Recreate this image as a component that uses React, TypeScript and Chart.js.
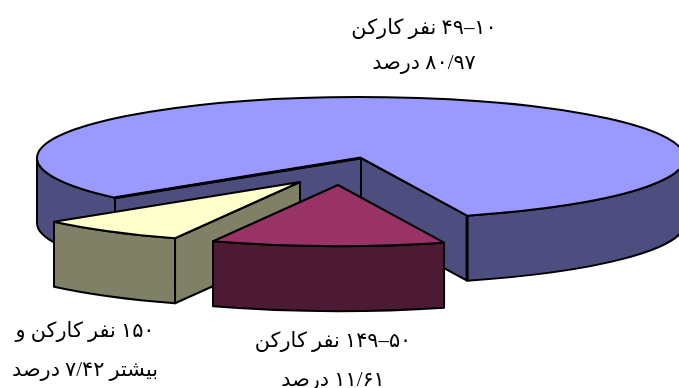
import { useEffect, useRef } from "react";
import { Chart, registerables } from "chart.js";

Chart.register(...registerables);

// Share of workshops by headcount band, in percent.
const bands = ["۱۰–۴۹ نفر کارکن", "۵۰–۱۴۹ نفر کارکن", "۱۵۰ نفر کارکن و بیشتر"];
const shares = [80.97, 11.61, 7.42];
const topColors = ["#9999ff", "#993366", "#ffffcc"];
const wallColors = ["#4d4d80", "#4d1a33", "#808066"];

// Label lines drawn for each slice.
const labelLines = [
  ["۱۰–۴۹ نفر کارکن", "۸۰/۹۷ درصد"],
  ["۵۰–۱۴۹ نفر کارکن", "۱۱/۶۱ درصد"],
  ["۱۵۰ نفر کارکن و", "بیشتر ۷/۴۲ درصد"],
];

// Projection of the flat pie onto a tilted disc.
const DISC = { x: 361, y: 158, rx: 324, ry: 61, depth: 65 };
const EXPLODE = [
  { dx: 0, dy: 0 },
  { dx: -23, dy: 27 },
  { dx: -61, dy: 24 },
];
const LABEL_POS = [
  { x: 424, ys: [29, 64] },
  { x: 333, ys: [342, 381] },
  { x: 85, ys: [332, 371] },
];
const LABEL_FONT = '20.8px "Liberation Serif", "DejaVu Sans"';

type Pt = { x: number; y: number };

const rimPoint = (c: Pt, angle: number): Pt => ({
  x: c.x + DISC.rx * Math.cos(angle),
  y: c.y + DISC.ry * Math.sin(angle),
});

// Parts of [start, end] that face the viewer (the lower half of the ellipse).
function frontSpans(start: number, end: number): [number, number][] {
  const spans: [number, number][] = [];
  for (let k = -1; k <= 2; k++) {
    const a = Math.max(start, k * 2 * Math.PI);
    const b = Math.min(end, k * 2 * Math.PI + Math.PI);
    if (b > a) spans.push([a, b]);
  }
  return spans;
}

function drawSlice(ctx: CanvasRenderingContext2D, arc: any, index: number) {
  const { dx, dy } = EXPLODE[index];
  const c = { x: DISC.x + dx, y: DISC.y + dy };
  const { startAngle: s, endAngle: e } = arc;
  const a = rimPoint(c, s);
  const b = rimPoint(c, e);
  const d = DISC.depth;
  const wall = wallColors[index];

  ctx.lineJoin = "round";
  ctx.strokeStyle = "#000";
  ctx.lineWidth = 2;
  ctx.fillStyle = wall;

  // Cut faces: only those turned towards the viewer are painted.
  const quad = (p: Pt) => {
    ctx.beginPath();
    ctx.moveTo(c.x, c.y);
    ctx.lineTo(p.x, p.y);
    ctx.lineTo(p.x, p.y + d);
    ctx.lineTo(c.x, c.y + d);
    ctx.closePath();
    ctx.fill();
    ctx.stroke();
  };
  if (index === 0) {
    quad(a);
    quad(b);
  } else if (index === 2) {
    quad(a);
  }

  // Outer wall of the slice.
  for (const [from, to] of frontSpans(s, e)) {
    ctx.beginPath();
    ctx.ellipse(c.x, c.y, DISC.rx, DISC.ry, 0, from, to);
    ctx.ellipse(c.x, c.y + d, DISC.rx, DISC.ry, 0, to, from, true);
    ctx.closePath();
    ctx.fill();
    ctx.stroke();
  }

  // Top face.
  ctx.beginPath();
  ctx.moveTo(c.x, c.y);
  ctx.ellipse(c.x, c.y, DISC.rx, DISC.ry, 0, s, e);
  ctx.closePath();
  ctx.fillStyle = arc.options.backgroundColor;
  ctx.fill();
  ctx.stroke();

  // The main slice has heavier edges along its front cut.
  if (index === 0) {
    ctx.lineWidth = 3;
    ctx.beginPath();
    ctx.moveTo(b.x, b.y);
    ctx.lineTo(b.x, b.y + d);
    ctx.moveTo(a.x, a.y);
    ctx.lineTo(c.x, c.y);
    ctx.stroke();
  }
}

const tiltedPie = {
  id: "tiltedPie",
  beforeDatasetsDraw(chart: any) {
    const ctx: CanvasRenderingContext2D = chart.ctx;
    const arcs = chart.getDatasetMeta(0).data;
    ctx.save();
    // Back to front: main slice, then the smallest, then the middle one.
    [0, 2, 1].forEach((i) => drawSlice(ctx, arcs[i], i));
    ctx.restore();
    return false;
  },
  afterDraw(chart: any) {
    const ctx: CanvasRenderingContext2D = chart.ctx;
    ctx.save();
    ctx.font = LABEL_FONT;
    ctx.fillStyle = "#000";
    ctx.textAlign = "center";
    ctx.textBaseline = "middle";
    ctx.direction = "rtl";
    labelLines.forEach((lines, i) => {
      lines.forEach((line, j) => {
        ctx.fillText(line, LABEL_POS[i].x, LABEL_POS[i].ys[j]);
      });
    });
    ctx.restore();
  },
};

export default function App() {
  const ref = useRef<HTMLCanvasElement>(null);

  useEffect(() => {
    document.body.style.margin = "0";
    const chart = new Chart(ref.current!, {
      type: "pie",
      data: {
        labels: bands,
        datasets: [{ data: shares, backgroundColor: topColors }],
      },
      options: {
        animation: false,
        responsive: false,
        rotation: 229.4,
        events: [],
        plugins: { legend: { display: false }, tooltip: { enabled: false } },
      },
      plugins: [tiltedPie],
    });
    return () => chart.destroy();
  }, []);

  return <canvas ref={ref} width={679} height={388} style={{ display: "block" }} />;
}
